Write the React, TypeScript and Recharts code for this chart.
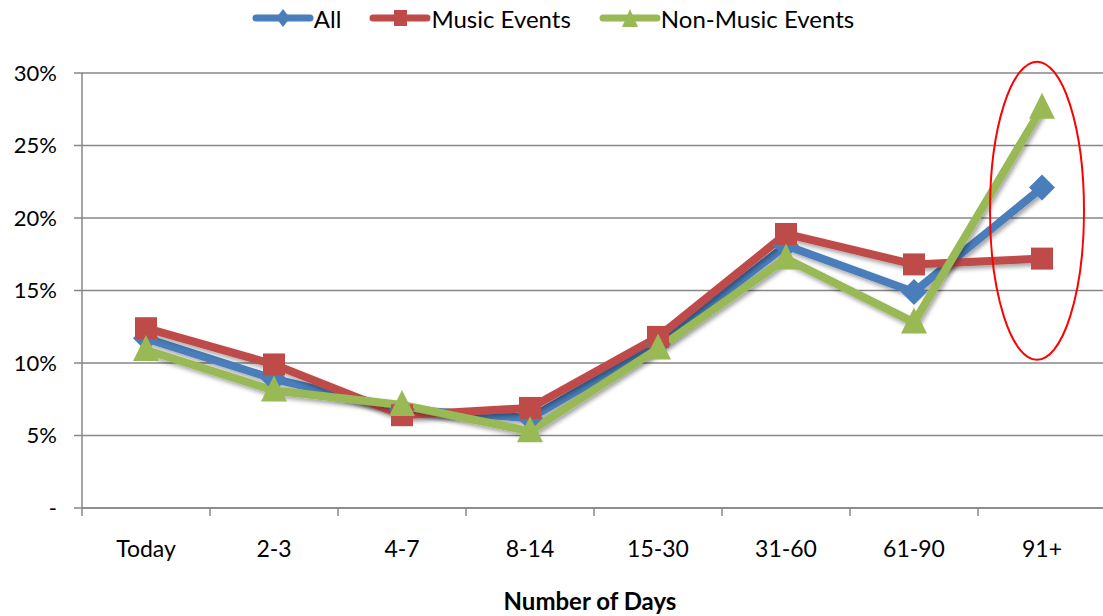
import React from 'react';
import { LineChart, Line, XAxis, YAxis, CartesianGrid, Legend, ReferenceDot } from 'recharts';

const categories = ['Today', '2-3', '4-7', '8-14', '15-30', '31-60', '61-90', '91+'];
const allValues = [11.7, 8.9, 6.8, 6.2, 11.3, 18.1, 14.9, 22.1];
const musicValues = [12.4, 9.9, 6.4, 6.9, 11.8, 18.9, 16.8, 17.2];
const nonMusicValues = [10.9, 8.1, 7.1, 5.3, 11.0, 17.2, 12.8, 27.6];
const yTicks = [0, 5, 10, 15, 20, 25, 30];

const data = categories.map((c, i) => ({
  name: c,
  all: allValues[i],
  music: musicValues[i],
  nonMusic: nonMusicValues[i],
}));

const BLUE = '#4A7EBB';
const RED = '#BE4B48';
const GREEN = '#98B954';
const GRID = '#878787';
const FONT = 'Lato, "Open Sans", sans-serif';

const CHART_W = 1110;
const CHART_H = 616;
const M_LEFT = 0;
const Y_W = 82;
const M_RIGHT = 4;
const BAND = (CHART_W - M_LEFT - Y_W - M_RIGHT) / categories.length;

const Diamond = (props: any) => {
  const { cx, cy, fill } = props;
  if (cx == null || cy == null) return null;
  const r = 13;
  return <path d={`M${cx},${cy - r}L${cx + r},${cy}L${cx},${cy + r}L${cx - r},${cy}Z`} fill={fill} />;
};
const Square = (props: any) => {
  const { cx, cy, fill } = props;
  if (cx == null || cy == null) return null;
  const r = 11;
  return <rect x={cx - r} y={cy - r} width={2 * r} height={2 * r} fill={fill} />;
};
const Triangle = (props: any) => {
  const { cx, cy, fill } = props;
  if (cx == null || cy == null) return null;
  const r = 13;
  return <path d={`M${cx},${cy - r - 2}L${cx + r},${cy + r - 2}L${cx - r},${cy + r - 2}Z`} fill={fill} />;
};

const XTick = (props: any) => {
  const { x, y, payload, index } = props;
  const last = index === categories.length - 1;
  return (
    <g>
      <line x1={x - BAND / 2} x2={x - BAND / 2} y1={y - 8} y2={y} stroke={GRID} strokeWidth={1.5} />
      {last && <line x1={x + BAND / 2} x2={x + BAND / 2} y1={y - 8} y2={y} stroke={GRID} strokeWidth={1.5} />}
      <text x={x} y={y + 41} textAnchor="middle" fontSize={23} fontFamily={FONT} fill="#000">
        {payload.value}
      </text>
    </g>
  );
};

const legendItems = [
  { label: 'All', color: BLUE, shape: 'diamond' },
  { label: 'Music Events', color: RED, shape: 'square' },
  { label: 'Non-Music Events', color: GREEN, shape: 'triangle' },
];

const LegendContent = () => (
  <div style={{ display: 'flex', justifyContent: 'center', alignItems: 'center', height: 36, fontFamily: FONT, fontSize: 24, color: '#000', paddingLeft: 28 }}>
    {legendItems.map((it) => (
      <div key={it.label} style={{ display: 'flex', alignItems: 'center', marginRight: 28 }}>
        <svg width={62} height={24}>
          <line x1={4} x2={58} y1={12} y2={12} stroke={it.color} strokeWidth={7} strokeLinecap="round" />
          {it.shape === 'diamond' && <path d="M31,3L38,12L31,21L24,12Z" fill={it.color} />}
          {it.shape === 'square' && <rect x={25} y={4} width={13} height={16} fill={it.color} />}
          {it.shape === 'triangle' && <path d="M31,3L39,21L23,21Z" fill={it.color} />}
        </svg>
        <span>{it.label}</span>
      </div>
    ))}
  </div>
);

const Ellipse = (props: any) => {
  const { cx, cy } = props;
  if (cx == null || cy == null) return null;
  return <ellipse cx={cx - 5} cy={cy} rx={47} ry={149} fill="none" stroke="#FF0000" strokeWidth={2} />;
};

export default function App() {
  return (
    <div style={{ position: 'absolute', left: 0, top: 0, width: 1103, height: 616, overflow: 'hidden', background: '#fff' }}>
      <LineChart
        width={CHART_W}
        height={CHART_H}
        data={data}
        margin={{ top: 37, right: M_RIGHT, bottom: 0, left: M_LEFT }}
      >
        <defs>
          <filter id="shadow" x="-20%" y="-20%" width="140%" height="140%">
            <feDropShadow dx="2" dy="3" stdDeviation="2" floodColor="#000" floodOpacity="0.35" />
          </filter>
        </defs>
        <Legend verticalAlign="top" align="center" height={36} wrapperStyle={{ top: 0 }} content={<LegendContent />} />
        <CartesianGrid vertical={false} stroke={GRID} strokeWidth={1.5} />
        <XAxis
          dataKey="name"
          height={108}
          padding={{ left: BAND / 2, right: BAND / 2 }}
          axisLine={{ stroke: GRID, strokeWidth: 1.5 }}
          tickLine={false}
          tick={<XTick />}
          interval={0}
          label={{ value: 'Number of Days', position: 'insideBottom', offset: 6, fontSize: 24, fontWeight: 'bold', fontFamily: FONT, fill: '#000', dx: -4 }}
        />
        <YAxis
          width={Y_W}
          domain={[0, 30]}
          ticks={yTicks}
          interval={0}
          axisLine={{ stroke: GRID, strokeWidth: 1.5 }}
          tickLine={{ stroke: GRID, strokeWidth: 1.5 }}
          tickSize={8}
          tickMargin={17}
          tickFormatter={(v: number) => (v === 0 ? '-' : `${v}%`)}
          tick={{ fontSize: 22, fontFamily: FONT, fill: '#000' }}
        />
        <Line
          type="linear"
          dataKey="all"
          name="All"
          stroke={BLUE}
          strokeWidth={8}
          dot={<Diamond fill={BLUE} />}
          activeDot={false}
          isAnimationActive={false}
          style={{ filter: 'url(#shadow)' }}
        />
        <Line
          type="linear"
          dataKey="music"
          name="Music Events"
          stroke={RED}
          strokeWidth={8}
          dot={<Square fill={RED} />}
          activeDot={false}
          isAnimationActive={false}
          style={{ filter: 'url(#shadow)' }}
        />
        <Line
          type="linear"
          dataKey="nonMusic"
          name="Non-Music Events"
          stroke={GREEN}
          strokeWidth={8}
          dot={<Triangle fill={GREEN} />}
          activeDot={false}
          isAnimationActive={false}
          style={{ filter: 'url(#shadow)' }}
        />
        <ReferenceDot x="91+" y={20.5} ifOverflow="visible" shape={<Ellipse />} />
      </LineChart>
    </div>
  );
}
